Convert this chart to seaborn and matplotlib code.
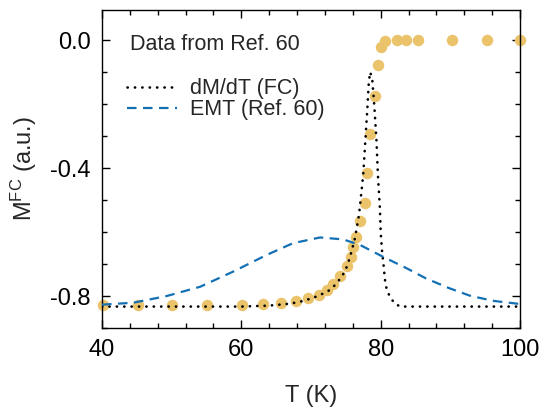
import numpy as np
import pandas as pd
import matplotlib
matplotlib.use("Agg")
import matplotlib.pyplot as plt
import seaborn as sns
from matplotlib.ticker import MultipleLocator, FormatStrFormatter

# ---- data ----
data_T = [40.2, 45.2, 50.1, 55.0, 60.1, 63.1, 65.7, 67.8, 69.6, 71.1, 72.3, 73.2,
          74.1, 75.2, 75.7, 76.1, 76.5, 77.1, 77.7, 78.1, 78.5, 79.2, 79.6, 80.1,
          80.6, 82.3, 83.7, 85.3, 90.2, 95.2, 100.0]
data_M = [-0.829, -0.829, -0.829, -0.829, -0.829, -0.826, -0.823, -0.817, -0.807,
          -0.798, -0.782, -0.763, -0.739, -0.707, -0.679, -0.648, -0.614, -0.567,
          -0.508, -0.414, -0.293, -0.175, -0.078, -0.022, -0.003, 0.0, 0.0, 0.0,
          0.0, 0.0, 0.0]

dmdt_T = [40, 50, 60, 64, 67, 69, 71, 72.5, 73.5, 74.5, 75.2, 75.7, 76.3, 76.9,
          77.5, 77.8, 78.1, 78.3, 78.5, 78.8, 79.1, 79.4, 79.6, 79.9, 80.0, 80.2,
          80.4, 80.6, 80.9, 81.5, 82.0, 82.8, 90, 100]
dmdt_M = [-0.833, -0.833, -0.833, -0.830, -0.824, -0.815, -0.800, -0.784, -0.765,
          -0.737, -0.706, -0.670, -0.620, -0.545, -0.420, -0.315, -0.210, -0.130,
          -0.100, -0.125, -0.210, -0.315, -0.420, -0.530, -0.600, -0.660, -0.700,
          -0.747, -0.784, -0.808, -0.823, -0.833, -0.833, -0.833]

emt_T = [40, 44.5, 49.3, 54.1, 58.8, 63.6, 67.4, 71.3, 74.6, 77.0, 80.3, 83.7,
         86.5, 89.9, 92.8, 96.1, 100]
emt_M = [-0.827, -0.821, -0.800, -0.771, -0.724, -0.672, -0.635, -0.617, -0.623,
         -0.640, -0.677, -0.713, -0.745, -0.776, -0.799, -0.815, -0.825]

x_ticks = [40, 60, 80, 100]
y_ticks = [0.0, -0.4, -0.8]

labels = ["Data from Ref. 60", "dM/dT (FC)", "EMT (Ref. 60)"]

# ---- styling ----
sns.set_theme(style="ticks")
plt.rcParams["font.family"] = ["Liberation Sans", "DejaVu Sans"]
plt.rcParams["mathtext.fontset"] = "custom"
plt.rcParams["mathtext.rm"] = "Liberation Sans"
plt.rcParams["mathtext.it"] = "Liberation Sans:italic"
plt.rcParams["axes.unicode_minus"] = False

fig = plt.figure(figsize=(5.42, 4.11), dpi=100)
ax = fig.add_axes([102 / 542, 1 - 328 / 411, 418 / 542, 318 / 411])

yellow = "#EAC36B"
blue = "#1370B4"

df_data = pd.DataFrame({"T": data_T, "M": data_M})
df_dmdt = pd.DataFrame({"T": dmdt_T, "M": dmdt_M})
df_emt = pd.DataFrame({"T": emt_T, "M": emt_M})

sns.scatterplot(data=df_data, x="T", y="M", ax=ax, color=yellow, s=68,
                linewidth=0, zorder=2, clip_on=False)
sns.lineplot(data=df_dmdt, x="T", y="M", ax=ax, color="black", lw=1.9,
             linestyle=(0, (0.1, 2.7)), dash_capstyle="round", estimator=None,
             sort=False, zorder=3, label=labels[1])
sns.lineplot(data=df_emt, x="T", y="M", ax=ax, color=blue, lw=1.6,
             linestyle=(0, (4.3, 2.9)), estimator=None, sort=False, zorder=3,
             label=labels[2])

ax.set_xlim(40, 100)
ax.set_ylim(-0.9, 0.094)
ax.set_xticks(x_ticks)
ax.set_yticks(y_ticks)
ax.xaxis.set_minor_locator(MultipleLocator(4))
ax.yaxis.set_minor_locator(MultipleLocator(0.1))
ax.yaxis.set_major_formatter(FormatStrFormatter("%.1f"))
ax.tick_params(which="both", direction="in", top=True, right=True,
               width=1.0, colors="black", labelsize=17, pad=8)
ax.tick_params(which="major", length=6)
ax.tick_params(which="minor", length=3.5)
for sp in ax.spines.values():
    sp.set_linewidth(1.0)
    sp.set_color("black")

ax.set_xlabel("T (K)", fontsize=17, labelpad=17)
ax.set_ylabel(r"M$^{\rm FC}$ (a.u.)", fontsize=17, labelpad=8)

ax.text(0.067, 0.893, labels[0], transform=ax.transAxes, fontsize=15.5,
        va="center", ha="left")
leg = ax.legend(loc="upper left", bbox_to_anchor=(0.06, 0.785), frameon=False,
                fontsize=15.5, handlelength=2.3, handletextpad=0.6,
                labelspacing=0.0, borderpad=0, borderaxespad=0)

fig.savefig("out.png", dpi=100)
